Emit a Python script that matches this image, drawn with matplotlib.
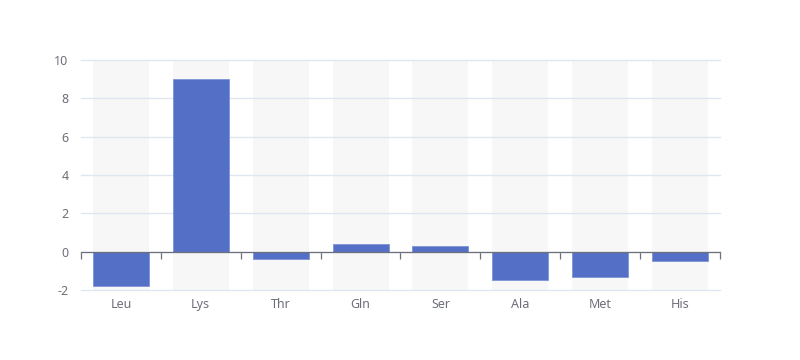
import numpy as np
import matplotlib
matplotlib.use("Agg")
import matplotlib.pyplot as plt

categories = ["Leu", "Lys", "Thr", "Gln", "Ser", "Ala", "Met", "His"]
values = [-1.8, 9.0, -0.4, 0.4, 0.3, -1.5, -1.3, -0.5]
y_ticks = [-2, 0, 2, 4, 6, 8, 10]

bar_color = "#5470c6"
bg_color = "#f7f7f7"
grid_color = "#e0e6f1"
axis_color = "#6e7079"

plt.rcParams["font.family"] = ["Noto Sans", "DejaVu Sans"]
plt.rcParams["axes.unicode_minus"] = False

fig = plt.figure(figsize=(8, 3.6), dpi=100)
ax = fig.add_axes([81 / 800, 1 - 290 / 360, 639 / 800, 230 / 360])

x = np.arange(len(categories))
y_min, y_max = y_ticks[0], y_ticks[-1]

# background bars behind everything
ax.bar(x, y_max - y_min, bottom=y_min, width=0.7, color=bg_color, zorder=0.2)
ax.bar(x, values, width=0.7, color=bar_color, edgecolor="#7f93d6",
       linewidth=0.6, zorder=2)

ax.set_xlim(-0.5, len(categories) - 0.5)
ax.set_ylim(y_min, y_max)

ax.set_axisbelow(True)
ax.set_yticks(y_ticks)
ax.yaxis.grid(True, color=grid_color, linewidth=1.0)
for line in ax.get_ygridlines():
    line.set_clip_on(False)
ax.tick_params(axis="y", length=0, pad=9, labelsize=9, labelcolor=axis_color)

for side in ["top", "right", "left"]:
    ax.spines[side].set_visible(False)

# x axis line sits on zero, ticks at category boundaries
ax.spines["bottom"].set_position(("data", 0))
ax.spines["bottom"].set_color(axis_color)
ax.spines["bottom"].set_linewidth(0.9)
ax.spines["bottom"].set_zorder(3)
ax.set_xticks(np.arange(len(categories) + 1) - 0.5)
ax.set_xticklabels([])
ax.tick_params(axis="x", direction="out", length=5, width=0.9, color=axis_color)

# category labels along the bottom of the plot
sec = ax.secondary_xaxis(0)
sec.set_xticks(x)
sec.set_xticklabels(categories)
sec.tick_params(length=0, pad=6, labelsize=9, labelcolor=axis_color)
sec.spines["bottom"].set_visible(False)

fig.savefig("out.png", dpi=100, facecolor="white")
